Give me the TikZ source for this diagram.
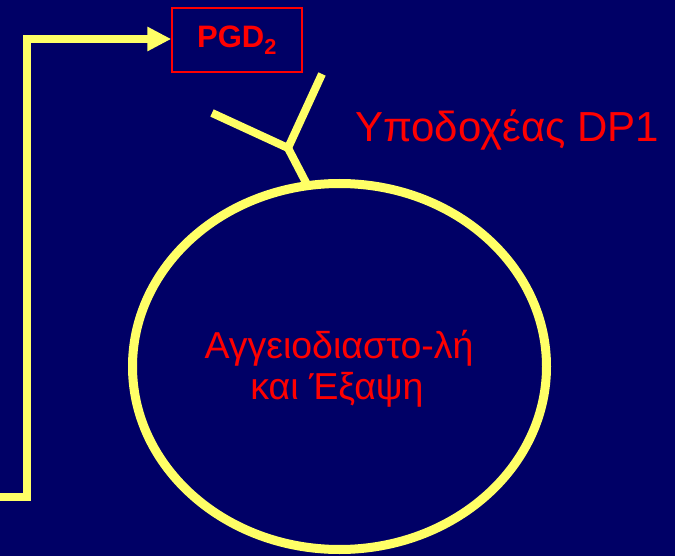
\documentclass[tikz,border=0pt]{standalone}
\usepackage{fontspec}
\setmainfont{Liberation Sans}
\usetikzlibrary{arrows.meta,shapes.geometric}
\definecolor{navy}{HTML}{000066}
\definecolor{lemon}{HTML}{FFFF66}
\definecolor{redtxt}{HTML}{FF0000}
\tikzset{
  yline/.style={draw=lemon, line width=8pt},
  label/.style={text=redtxt, inner sep=0pt},
}
\begin{document}
\begin{tikzpicture}[x=1pt,y=-1pt]
  % background and page frame
  \fill[navy] (0,0) rectangle (675,556);
  \useasboundingbox (0,0) rectangle (675,556);

  % product box
  \node[draw=redtxt, line width=1.5pt, minimum width=130pt, minimum height=64pt,
        inner sep=0pt, text=redtxt, font=\fontsize{31}{36}\selectfont\bfseries]
        (pgd) at (237,40) {PGD\textsubscript{2}};

  % pathway arrow feeding the product
  \coordinate (start) at (-6,497);
  \coordinate (bend1) at (27,497);
  \coordinate (bend2) at (27,39);
  \draw[yline, -{Triangle[length=24pt,width=23pt]}]
       (start) -- (bend1) -- (bend2) -- (pgd.west |- bend2);

  % cell
  \node[ellipse, draw=lemon, line width=9pt, minimum width=414pt,
        minimum height=366pt, inner sep=0pt, outer sep=0pt] (cell) at (339.5,366.5) {};

  % receptor
  \coordinate (fork) at (288,148);
  \coordinate (armA) at (322,74);
  \coordinate (armB) at (212,113);
  \draw[yline] (armA) -- (fork) -- (armB);
  \draw[yline] (fork) -- (cell.100);

  % labels
  \node[label, anchor=base west, font=\fontsize{42}{48}\selectfont]
       (dp1) at (355,142) {Υποδοχέας DP1};
  \node[label, anchor=base, font=\fontsize{37.5}{44}\selectfont]
       (eff1) at (339,358) {Αγγειοδιαστο-λή};
  \node[label, anchor=base, font=\fontsize{37.5}{44}\selectfont]
       (eff2) at (337,399) {και Έξαψη};
\end{tikzpicture}
\end{document}
